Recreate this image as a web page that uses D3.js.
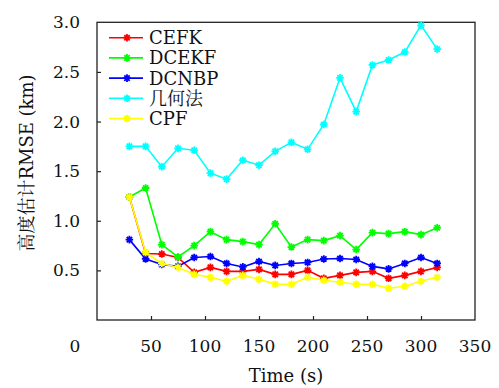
<!DOCTYPE html>
<html>
<head>
<meta charset="utf-8">
<script src="https://cdn.jsdelivr.net/npm/d3@7"></script>
<style>
  html, body { margin: 0; padding: 0; background: #fff; }
  svg { display: block; }
</style>
</head>
<body>
<svg id="chart" width="499" height="388"></svg>
<script>
// Sampling times (s)
const times = [30, 45, 60, 75, 90, 105, 120, 135, 150, 165, 180, 195, 210, 225, 240, 255, 270, 285, 300, 315];

// Height-estimation RMSE (km) per method
const cefk   = [1.24, 0.67, 0.665, 0.63, 0.48, 0.53, 0.49, 0.49, 0.51, 0.46, 0.46, 0.50, 0.42, 0.45, 0.48, 0.49, 0.42, 0.45, 0.49, 0.53];
const dcekf  = [1.24, 1.33, 0.76, 0.635, 0.75, 0.89, 0.81, 0.79, 0.76, 0.97, 0.735, 0.81, 0.80, 0.85, 0.71, 0.88, 0.87, 0.89, 0.86, 0.93];
const dcnbp  = [0.81, 0.615, 0.56, 0.54, 0.63, 0.64, 0.57, 0.535, 0.59, 0.55, 0.57, 0.58, 0.615, 0.62, 0.61, 0.54, 0.515, 0.57, 0.63, 0.57];
const geom   = [1.75, 1.75, 1.545, 1.73, 1.71, 1.48, 1.42, 1.61, 1.56, 1.70, 1.79, 1.72, 1.97, 2.44, 2.10, 2.57, 2.62, 2.70, 2.97, 2.73];
const cpf    = [1.24, 0.68, 0.57, 0.53, 0.46, 0.43, 0.39, 0.45, 0.41, 0.36, 0.36, 0.43, 0.40, 0.38, 0.36, 0.36, 0.32, 0.34, 0.39, 0.43];

const seriesNames  = ["CEFK", "DCEKF", "DCNBP", "几何法", "CPF"];
const seriesColors = ["#ff0000", "#00ff00", "#0000ff", "#00ffff", "#ffff00"];
const seriesValues = [cefk, dcekf, dcnbp, geom, cpf];

const xTicks = [0, 50, 100, 150, 200, 250, 300, 350];
const yTicks = [0.5, 1.0, 1.5, 2.0, 2.5, 3.0];

const svg = d3.select("#chart");
const plotLeft = 97, plotRight = 475, plotTop = 22.3, plotBottom = 320;

const x = d3.scaleLinear().domain([0, 350]).range([plotLeft, plotRight]);
const y = d3.scaleLinear().domain([0, 3]).range([plotBottom, plotTop]);

const frame = "#222";
const tickLen = 4;
const fontSize = 18;
const tickFontSize = 17;
const fontFamily = "'DejaVu Serif', 'Noto Serif CJK SC', 'Noto Sans CJK SC', serif";
const ink = "#111";

// Inward ticks along bottom and left
svg.append("g")
  .attr("transform", `translate(0,${plotBottom})`)
  .call(d3.axisBottom(x).tickValues(xTicks.slice(1, -1)).tickSizeInner(-tickLen).tickSizeOuter(0).tickFormat(""))
  .call(g => g.select(".domain").remove())
  .call(g => g.selectAll("line").attr("stroke", frame).attr("stroke-width", 1.2));

svg.append("g")
  .attr("transform", `translate(${plotLeft},0)`)
  .call(d3.axisLeft(y).tickValues(yTicks.slice(0, -1)).tickSizeInner(-tickLen).tickSizeOuter(0).tickFormat(""))
  .call(g => g.select(".domain").remove())
  .call(g => g.selectAll("line").attr("stroke", frame).attr("stroke-width", 1.2));

// Plot frame
svg.append("rect")
  .attr("x", plotLeft).attr("y", plotTop)
  .attr("width", plotRight - plotLeft).attr("height", plotBottom - plotTop)
  .attr("fill", "none").attr("stroke", frame).attr("stroke-width", 1.3);

const labels = svg.append("g")
  .attr("font-family", fontFamily)
  .attr("font-size", fontSize)
  .attr("fill", ink);

// X tick labels (the zero label sits left of the axis corner)
labels.append("g").selectAll("text")
  .data(xTicks)
  .join("text")
  .attr("x", d => d === 0 ? x(d) - 22 : x(d))
  .attr("y", 352)
  .attr("text-anchor", "middle")
  .attr("font-size", tickFontSize)
  .text(d => d);

// Y tick labels
labels.append("g").selectAll("text")
  .data(yTicks)
  .join("text")
  .attr("x", 80)
  .attr("y", d => y(d) + 6)
  .attr("text-anchor", "end")
  .attr("font-size", tickFontSize)
  .text(d => d.toFixed(1));

// Axis titles
labels.append("text")
  .attr("x", (plotLeft + plotRight) / 2)
  .attr("y", 382)
  .attr("text-anchor", "middle")
  .text("Time (s)");

labels.append("text")
  .attr("transform", "translate(33,163) rotate(-90)")
  .attr("text-anchor", "middle")
  .text("高度估计RMSE (km)");

// Asterisk marker path centred on (0,0)
function asterisk(r) {
  const d = r * Math.SQRT1_2;
  return `M${-r},0L${r},0M0,${-r}L0,${r}M${-d},${-d}L${d},${d}M${-d},${d}L${d},${-d}`;
}

const line = d3.line().x((d, i) => x(times[i])).y(d => y(d));

seriesValues.forEach((vals, k) => {
  const g = svg.append("g");
  g.append("path")
    .datum(vals)
    .attr("d", line)
    .attr("fill", "none")
    .attr("stroke", seriesColors[k])
    .attr("stroke-width", 1.6);
  g.selectAll("path.m")
    .data(vals)
    .join("path")
    .attr("class", "m")
    .attr("transform", (d, i) => `translate(${x(times[i])},${y(d)})`)
    .attr("d", asterisk(3.8))
    .attr("stroke", seriesColors[k])
    .attr("stroke-width", 1.8)
    .attr("fill", "none");
});

// Legend
const legend = svg.append("g")
  .attr("font-family", fontFamily)
  .attr("font-size", fontSize)
  .attr("fill", ink);
seriesNames.forEach((name, k) => {
  const ly = 37.7 + k * 20.2;
  legend.append("line")
    .attr("x1", 109).attr("x2", 143)
    .attr("y1", ly).attr("y2", ly)
    .attr("stroke", seriesColors[k]).attr("stroke-width", 1.6);
  legend.append("path")
    .attr("transform", `translate(127,${ly})`)
    .attr("d", asterisk(3.8))
    .attr("stroke", seriesColors[k]).attr("stroke-width", 1.8).attr("fill", "none");
  legend.append("text")
    .attr("x", 149).attr("y", ly + 6.5)
    .text(name);
});
</script>
</body>
</html>
